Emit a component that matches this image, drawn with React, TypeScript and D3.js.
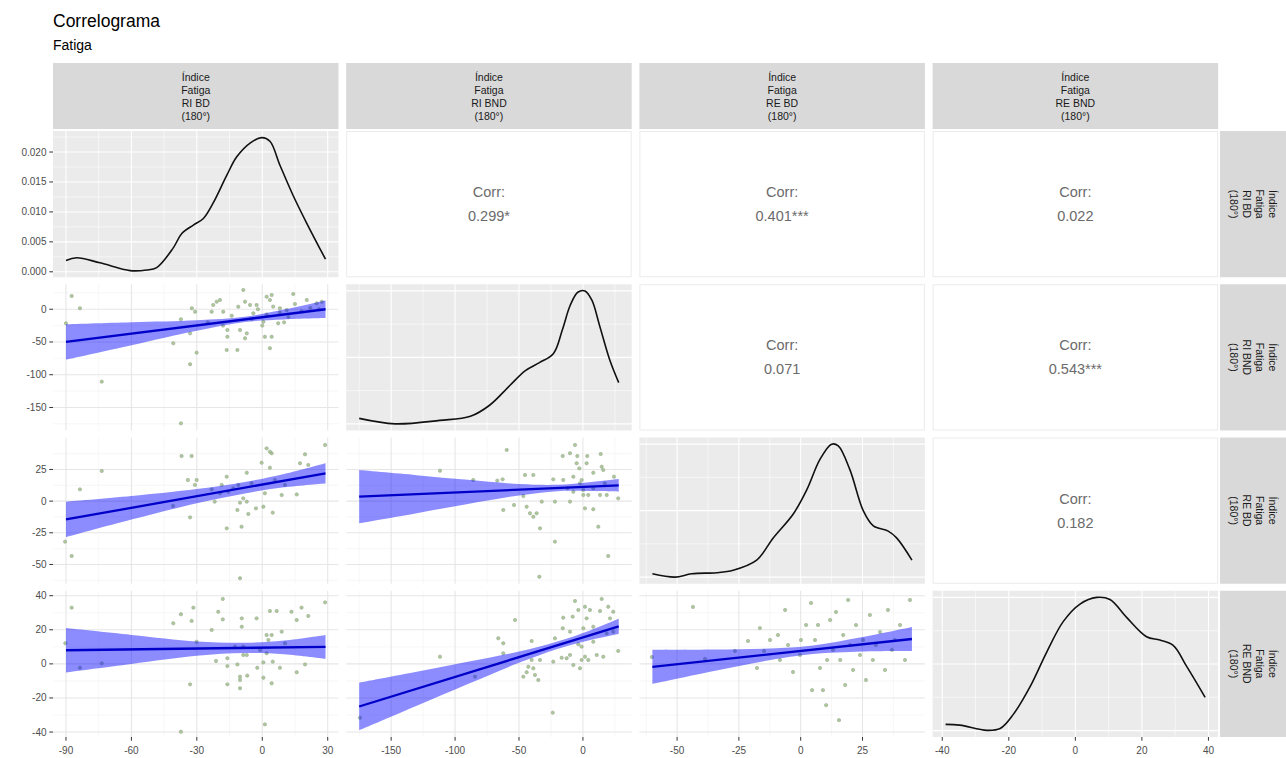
import React, { useEffect } from "react";
import * as d3 from "d3";

// ---------------- data ----------------
const TITLE = "Correlograma";
const SUBTITLE = "Fatiga";
const VAR_CODES = ["RI BD", "RI BND", "RE BD", "RE BND"];
const STRIP_PREFIX = ["Índice", "Fatiga"];
const STRIP_SUFFIX = "(180°)";

// observed data range of each variable
const VAR_EXTENTS: number[][] = [
  [-90, 29],
  [-175, 28],
  [-60, 45],
  [-39, 39],
];

const AXIS_TICKS: number[][] = [
  [-90, -60, -30, 0, 30],
  [-150, -100, -50, 0],
  [-50, -25, 0, 25],
  [-40, -20, 0, 20, 40],
];
const DENSITY_TICKS = [0, 0.005, 0.01, 0.015, 0.02];

// diagonal densities [x, density]
const DENS_RI_BD = [
  [-90, 0.0019], [-85.1, 0.00235], [-74.4, 0.0015], [-60.6, 0.0002], [-53, 0.0003],
  [-48.4, 0.0007], [-40.8, 0.004], [-36.9, 0.0064], [-31.6, 0.0078], [-27, 0.0089],
  [-22.5, 0.0115], [-16.3, 0.0161], [-11.7, 0.0192], [-5.6, 0.0215], [-0.25, 0.0224],
  [3.5, 0.0218], [8.1, 0.0178], [14.2, 0.0127], [20.4, 0.0081], [29, 0.0021],
];
const DENS_RI_BND = [
  [-175, 0.041], [-147, 0.0], [-112, 0.026], [-88, 0.057], [-73, 0.14], [-57, 0.29],
  [-45, 0.4], [-34, 0.46], [-23, 0.53], [-16, 0.71], [-10, 0.89], [-4, 0.99],
  [1.6, 1.0], [7, 0.93], [13, 0.74], [21, 0.48], [28, 0.31],
];
const DENS_RE_BD = [
  [-60, 0.025], [-50.8, 0.0], [-44.1, 0.025], [-34, 0.033], [-27.3, 0.052],
  [-17.8, 0.128], [-11.1, 0.295], [-3, 0.475], [2.4, 0.654], [7.8, 0.885],
  [12.5, 1.0], [15.2, 0.987], [19.9, 0.808], [25.3, 0.5], [29.4, 0.385],
  [35.4, 0.346], [38.8, 0.295], [45, 0.128],
];
const DENS_RE_BND = [
  [-39, 0.047], [-34.7, 0.041], [-26.6, 0.002], [-22.6, 0.016], [-18.7, 0.12],
  [-13.6, 0.33], [-8.6, 0.59], [-3.6, 0.82], [1.4, 0.95], [6.4, 1.0], [10.4, 0.984],
  [15.4, 0.85], [21.4, 0.705], [25.4, 0.68], [29.4, 0.64], [33.5, 0.48], [39, 0.25],
];

// correlation labels (upper triangle)
const CORR_LABELS = [
  { row: 0, col: 1, value: "0.299*" },
  { row: 0, col: 2, value: "0.401***" },
  { row: 0, col: 3, value: "0.022" },
  { row: 1, col: 2, value: "0.071" },
  { row: 1, col: 3, value: "0.543***" },
  { row: 2, col: 3, value: "0.182" },
];

// scatter points (lower triangle) [x, y]
const PTS_RIBD_RIBND = [
  [-87.4, 20.2], [-83.6, 1.4], [-90, -21.5], [-73.6, -110.6], [-40.8, -52], [-37.3, -15.4],
  [-33.1, -36.8], [-30.1, -66.3], [-33.1, -84.1], [-37.3, -174.2], [-32.3, 1.4], [-30.8, -3.8],
  [-23.2, -3.8], [-22.5, 6.5], [-20.9, 11.5], [-19.4, 14.1], [-17.9, -3.8], [-16, -31.7],
  [-16, -42], [-16.3, -62.2], [-11.4, -62.2], [-10.2, -31.7], [-7.1, -36.8], [-7.9, -44.4],
  [-11, 3.9], [-7.9, 11.5], [-8.7, 29.4], [-5.6, 6.5], [-2.6, 6.5], [0.5, -19], [1.2, -42],
  [4.3, -42], [3.5, -59.6], [2, 19.1], [4.3, 21.7], [3.5, 14.1], [7.3, -21.5], [14.2, 23.3],
  [20.4, 14.1], [24.9, 9.1], [27.3, 11.5], [8.1, 1.4], [11.2, -1.2], [-4.1, -6.2],
  [-14, -10], [-5, -15], [2, -8], [8, -5], [12, -12], [18, -3], [22, 2], [-25, -20],
  [-2, 0], [5, 4], [15, 8], [26, 0], [-18, -25], [10, -20], [0, -25],
];
const PTS_RIBD_REBD = [
  [-90.4, -32], [-87.4, -43.3], [-83.6, 9.3], [-73.6, 23.8], [-37, 35.6], [-32.4, 35.6],
  [-34.1, 16.7], [-30.1, 16.7], [-30.9, 12.8], [-40.9, -3.8], [-33.1, -12.8], [-23.2, 9.3],
  [-21.8, -0.4], [-18.6, 12.8], [-16.3, 19.3], [-15.6, 7.4], [-16.3, -21.5], [-11.4, -7],
  [-9.5, -20.2], [-10.2, -1.2], [-8.7, 2.2], [-7.1, -0.4], [-6.4, -10.2], [-7.1, 22.4],
  [-10.2, -60.9], [-2.9, -5.7], [-0.3, 30.3], [2, 41.7], [4.3, 37.8], [3.5, 39],
  [3.5, 26.4], [0.5, -4.4], [1.2, 6.2], [4.8, -9.1], [5.8, 16.7], [8.9, 4.8], [10.4, 12.8],
  [15.8, 5.3], [17.3, 29.9], [19.6, 37], [21.1, 28.5], [28.8, 44.3], [-13.3, 10.1],
  [-11, 12.8], [-4.9, 14.1], [-19.4, 6.2],
];
const PTS_RIBD_REBND = [
  [-87.4, 33], [-83.6, -2.3], [-90.3, 12.1], [-73.6, 0.3], [-40.8, 23.8], [-37.3, 29.1],
  [-31.6, 33], [-32.4, 25.2], [-33.1, -12], [-30.1, 13], [-37.3, -39.8], [-23.2, 19.9],
  [-21.2, 1.7], [-20.2, 30.6], [-18.1, 38.1], [-18.1, 26.1], [-16, 3.3], [-16, -1.3],
  [-16, -12], [-11.4, -0.3], [-10.2, -7.5], [-10.2, -9.5], [-10.2, -14.3], [-6.9, -6.9],
  [-9.4, 26.7], [-9.4, 21.8], [-2.6, 26.7], [-2.3, -2.3], [0.5, -8.1], [0.5, 0.9],
  [1.2, -35.5], [2, 16.9], [4.3, 16.9], [3.5, 31], [6.6, 31], [4.8, 1.3], [4.3, -11.4],
  [8.1, -2.3], [8.9, 18.9], [10.4, 12.1], [13.4, 30.6], [15.8, 25.7], [15.8, -4.9],
  [18, 33], [19.6, -0.3], [21.1, 28.1], [28.8, 36.1], [-8.7, 5.2], [-7.1, 5.2],
  [-8.7, 10.1], [-12.5, 10.1], [-1, 8.1], [2, 6.2], [2.8, 14],
];
const PTS_RIBND_REBD = [
  [-59.6, 40.4], [-111.8, 24], [-85.8, 16.7], [-67, 16.2], [-62.8, 17.2], [-62.3, -7],
  [-53.9, -3.1], [-45.3, 20.6], [-38.8, 20.6], [-46.6, 4], [-44, -4.4], [-41.4, -9.6],
  [-38.8, -12.3], [-36.2, -9.6], [-33.6, -21.5], [-34.1, -59.7], [-32.2, -0.4],
  [-23.2, 17.2], [-21.9, -0.4], [-21.9, -32], [-15.8, 35.6], [-10.1, 37.8], [-6.2, 44.3],
  [-4.4, 35.6], [-4.9, 29.9], [3.4, 35.6], [2.9, 29.9], [-2.8, 25.9], [-7.5, 19.3],
  [-10.1, -0.4], [-15.4, 16.7], [-12.2, 10.1], [-2.3, 14.1], [-1, 16.7], [1.6, -5.7],
  [0.3, 4.8], [4.2, 4.8], [8.1, 22.4], [8.1, -6.4], [12, -20.2], [13.9, 37.2], [14.7, 27.2],
  [15.9, 24.6], [19.8, -43.3], [24.3, 19.3], [27.6, 2.2], [13.4, 4.8], [18.6, 4.8],
  [0.3, 8.8], [8.1, 10.1], [-7.5, 7.4], [17.1, 14.1],
];
const PTS_RIBND_REBND = [
  [-174.4, -31.6], [-111.8, 4.2], [-84.4, -7.5], [-66.2, 15], [-62.3, 12.1], [-62.3, 6.2],
  [-53.1, 25.7], [-46.6, -7.5], [-44, -4.9], [-42.7, -1.7], [-38.8, -2.6], [-37.5, -6.5],
  [-34.9, -9.5], [-40.1, 2.3], [-33.6, 2.3], [-40.1, 13.4], [-23.6, -28.6], [-23.2, 1.3],
  [-21.9, 15], [-15.4, 27.1], [-15.8, 20.9], [-12.7, 3.3], [-10.1, 5.2], [-7.5, -0.7],
  [-6.2, 36.9], [-8, 27.7], [-3.6, 31.6], [1.6, 33.5], [2.9, 26.7], [5.5, 31.6], [-2.3, -2.6],
  [-1, 2.3], [1.6, 4.2], [4.2, 2.3], [-3.6, 11.5], [-1, 10.1], [8.1, 13], [10.8, 5.2],
  [15.9, 4.2], [14.7, 38.1], [13.4, 31], [19.8, 33.5], [21.2, 26.7], [23.7, 30.6],
  [27.6, 7.6], [8.1, 21.8], [0.3, 20.9], [18.6, 17.9], [-10.1, 18.9], [-16.6, 3.6],
  [23.7, 18.9],
];
const PTS_REBD_REBND = [
  [-60.2, 4], [-43.6, 33.4], [-38.7, 2.9], [-26.6, 7.6], [-21.3, 13.4], [-16.5, 21],
  [-14.8, 7.6], [-9.2, 16.9], [-6.3, 31.6], [-5.1, 11.1], [-3.1, -4.8], [-0.3, 5.2],
  [2.2, 22.8], [4.2, 35.7], [5.8, 14], [7.8, -2.4], [9, -15.4], [11.9, 25.7], [13.1, 8.2],
  [14.3, 30.4], [16, 2.3], [17.2, 16.9], [18, -12.4], [19.2, 37.5], [20, 11.1], [21.2, -3.6],
  [22.4, 22.8], [24, 5.2], [25.2, 14], [26.4, -9.5], [28, 28.7], [29.2, 2.3], [30.4, 11.1],
  [32.1, 18.7], [34.1, -3.6], [35.3, 31.6], [36.9, 8.2], [38.1, 14], [40.2, 22.8],
  [42.2, 2.3], [44.2, 37.5], [15.5, -33], [0.1, 14], [7, 22.8], [10.7, 2.3], [-8.4, 2.3],
  [-12.4, 14], [-17.7, -2.4], [4.6, -15.4], [10.3, -24.2],
];

// linear fits: [x0, y0, x1, y1] and confidence band samples [x, lower, upper]
const FIT_RIBD_RIBND = [-90, -50, 29, 0];
const BAND_RIBD_RIBND = [[-90, -77, -23], [-60, -54.9, -19.9], [-30, -32.8, -16.8], [-8, -19.5, -11.5], [10, -15.5, -0.5], [29, -13.5, 13.5]];
const FIT_RIBD_REBD = [-90, -14.5, 29, 22];
const BAND_RIBD_REBD = [[-90, -28.5, -0.5], [-60, -14.6, 4], [-30, -1.7, 9.5], [-8, 6.1, 15.1], [10, 10.9, 21.5], [29, 14, 30]];
const FIT_RIBD_REBND = [-90, 8, 29, 10];
const BAND_RIBD_REBND = [[-90, -5, 21], [-60, 0, 17], [-30, 4.8, 13.2], [-8, 6.4, 12.4], [10, 5.7, 13.7], [29, 3, 17]];
const FIT_RIBND_REBD = [-175, 3.5, 28, 12.5];
const BAND_RIBND_REBD = [[-175, -17.5, 24.5], [-130, -9.5, 20.5], [-90, -2.2, 16.8], [-50, 4.5, 13.5], [-20, 7.9, 12.9], [5, 8, 15], [28, 7.5, 17.5]];
const FIT_RIBND_REBND = [-175, -25, 28, 22];
const BAND_RIBND_REBND = [[-175, -39, -11], [-130, -24.6, -4.6], [-90, -11.8, 1.2], [-50, 0.6, 7.2], [-20, 8.7, 13.1], [5, 13.9, 19.5], [28, 17.5, 26.5]];
const FIT_REBD_REBND = [-60, -1.8, 45, 14.6];
const BAND_REBD_REBND = [[-60, -11.8, 8.2], [-35, -4.2, 8.4], [-10, 2.8, 9.2], [5, 5.8, 10.8], [25, 7.3, 15.7], [45, 7.6, 21.6]];

const LOWER = [
  { row: 1, col: 0, pts: PTS_RIBD_RIBND, fit: FIT_RIBD_RIBND, band: BAND_RIBD_RIBND },
  { row: 2, col: 0, pts: PTS_RIBD_REBD, fit: FIT_RIBD_REBD, band: BAND_RIBD_REBD },
  { row: 3, col: 0, pts: PTS_RIBD_REBND, fit: FIT_RIBD_REBND, band: BAND_RIBD_REBND },
  { row: 2, col: 1, pts: PTS_RIBND_REBD, fit: FIT_RIBND_REBD, band: BAND_RIBND_REBD },
  { row: 3, col: 1, pts: PTS_RIBND_REBND, fit: FIT_RIBND_REBND, band: BAND_RIBND_REBND },
  { row: 3, col: 2, pts: PTS_REBD_REBND, fit: FIT_REBD_REBND, band: BAND_REBD_REBND },
];
const DIAG = [DENS_RI_BD, DENS_RI_BND, DENS_RE_BD, DENS_RE_BND];

// ---------------- layout ----------------
const W = 1286;
const H = 758;
const PX0 = 53;
const PW = 285.5;
const HGAP = 7.7;
const PY0 = 131;
const PH = 146.25;
const VGAP = 7;
const STRIP_TOP_Y = 63;
const STRIP_H = 66;
const STRIP_RIGHT_X = 1220;
const FONT = "'Liberation Sans', Arial, Helvetica, sans-serif";

const colX = (j: number) => PX0 + j * (PW + HGAP);
const rowY = (i: number) => PY0 + i * (PH + VGAP);

function expand(ext: number[]) {
  const r = ext[1] - ext[0];
  return [ext[0] - 0.05 * r, ext[1] + 0.05 * r];
}
function minorOf(ticks: number[], dom: number[]) {
  const step = ticks[1] - ticks[0];
  const out: number[] = [];
  for (let t = ticks[0] - step * 4 - step / 2; t <= dom[1]; t += step) {
    if (t >= dom[0] && t <= dom[1]) out.push(t);
  }
  return out;
}
const xScale = (j: number) =>
  d3.scaleLinear().domain(expand(VAR_EXTENTS[j])).range([colX(j), colX(j) + PW]);
const yScale = (i: number) =>
  d3.scaleLinear().domain(expand(VAR_EXTENTS[i])).range([rowY(i) + PH, rowY(i)]);

function Grid({ x, y, xt, yt, bg, major, minor }: any) {
  const xd = x.domain();
  const yd = y.domain();
  const [x0, x1] = x.range();
  const [y1, y0] = y.range();
  const xm = minorOf(xt, xd);
  const ym = minorOf(yt, yd);
  return (
    <g>
      <rect x={x0} y={y0} width={x1 - x0} height={y1 - y0} fill={bg} />
      {xm.map((t, k) => (
        <line key={"xm" + k} x1={x(t)} x2={x(t)} y1={y0} y2={y1} stroke={minor} strokeWidth={0.55} />
      ))}
      {ym.map((t, k) => (
        <line key={"ym" + k} x1={x0} x2={x1} y1={y(t)} y2={y(t)} stroke={minor} strokeWidth={0.55} />
      ))}
      {xt.filter((t: number) => t >= xd[0] && t <= xd[1]).map((t: number, k: number) => (
        <line key={"xM" + k} x1={x(t)} x2={x(t)} y1={y0} y2={y1} stroke={major} strokeWidth={1.07} />
      ))}
      {yt.filter((t: number) => t >= yd[0] && t <= yd[1]).map((t: number, k: number) => (
        <line key={"yM" + k} x1={x0} x2={x1} y1={y(t)} y2={y(t)} stroke={major} strokeWidth={1.07} />
      ))}
    </g>
  );
}

function StripText({ cx, cy, code, rotate }: any) {
  const lines = [...STRIP_PREFIX, code, STRIP_SUFFIX];
  return (
    <g transform={`translate(${cx},${cy})${rotate ? " rotate(90)" : ""}`}>
      {lines.map((l, k) => (
        <text
          key={k}
          x={0}
          y={(k - 1.5) * 13}
          textAnchor="middle"
          dominantBaseline="central"
          fontSize={10.5}
          fill="#1A1A1A"
          fontFamily={FONT}
        >
          {l}
        </text>
      ))}
    </g>
  );
}

export default function App() {
  useEffect(() => {
    document.body.style.margin = "0";
  }, []);

  const diagPanels = DIAG.map((dens, i) => {
    const x = xScale(i);
    const dExt = d3.extent(dens, (d) => d[1]) as number[];
    const y = d3.scaleLinear().domain(expand(dExt)).range([rowY(i) + PH, rowY(i)]);
    const yt = i === 0 ? DENSITY_TICKS : y.ticks(3);
    const line = d3
      .line<number[]>()
      .x((d) => x(d[0]))
      .y((d) => y(d[1]))
      .curve(d3.curveCatmullRom.alpha(0.5));
    return { i, x, y, yt, path: line(dens as any) || "" };
  });

  const lowerPanels = LOWER.map((p) => {
    const x = xScale(p.col);
    const y = yScale(p.row);
    const area = d3
      .area<number[]>()
      .x((d) => x(d[0]))
      .y0((d) => y(d[1]))
      .y1((d) => y(d[2]))
      .curve(d3.curveCatmullRom.alpha(0.5));
    return { ...p, x, y, bandPath: area(p.band as any) || "" };
  });

  return (
    <svg
      width={W}
      height={H}
      style={{ display: "block", position: "absolute", left: 0, top: 0, background: "#fff" }}
      fontFamily={FONT}
    >
      <defs>
        {[0, 1, 2, 3].map((i) =>
          [0, 1, 2, 3].map((j) => (
            <clipPath id={`clip-${i}-${j}`} key={`c${i}${j}`}>
              <rect x={colX(j)} y={rowY(i)} width={PW} height={PH} />
            </clipPath>
          ))
        )}
      </defs>
      <rect x={0} y={0} width={W} height={H} fill="#fff" />
      <text x={53} y={27} fontSize={17.5} fill="#000">
        {TITLE}
      </text>
      <text x={53} y={50} fontSize={14} fill="#000">
        {SUBTITLE}
      </text>

      {/* top strips */}
      {VAR_CODES.map((c, j) => (
        <g key={"ts" + j}>
          <rect x={colX(j)} y={STRIP_TOP_Y} width={PW} height={STRIP_H} fill="#D9D9D9" />
          <StripText cx={colX(j) + PW / 2} cy={STRIP_TOP_Y + STRIP_H / 2} code={c} />
        </g>
      ))}
      {/* right strips */}
      {VAR_CODES.map((c, i) => (
        <g key={"rs" + i}>
          <rect x={STRIP_RIGHT_X} y={rowY(i)} width={STRIP_H} height={PH} fill="#D9D9D9" />
          <StripText cx={STRIP_RIGHT_X + STRIP_H / 2} cy={rowY(i) + PH / 2} code={c} rotate />
        </g>
      ))}

      {/* correlation panels */}
      {CORR_LABELS.map((c, k) => {
        const cx = colX(c.col) + PW / 2;
        const cy = rowY(c.row) + PH / 2;
        return (
          <g key={"corr" + k}>
            <rect
              x={colX(c.col) + 0.5}
              y={rowY(c.row) + 0.5}
              width={PW - 1}
              height={PH - 1}
              fill="#fff"
              stroke="#EBEBEB"
              strokeWidth={1}
            />
            <text x={cx} y={cy - 12} textAnchor="middle" dominantBaseline="central" fontSize={14.5} fill="#6B6B6B">
              Corr:
            </text>
            <text x={cx} y={cy + 12} textAnchor="middle" dominantBaseline="central" fontSize={14.5} fill="#6B6B6B">
              {c.value}
            </text>
          </g>
        );
      })}

      {/* diagonal density panels */}
      {diagPanels.map((p) => (
        <g key={"diag" + p.i}>
          <Grid x={p.x} y={p.y} xt={AXIS_TICKS[p.i]} yt={p.yt} bg="#EBEBEB" major="#FFFFFF" minor="#FFFFFF" />
          <path d={p.path} fill="none" stroke="#111" strokeWidth={1.6} clipPath={`url(#clip-${p.i}-${p.i})`} />
        </g>
      ))}

      {/* lower scatter panels */}
      {lowerPanels.map((p, k) => (
        <g key={"low" + k}>
          <Grid x={p.x} y={p.y} xt={AXIS_TICKS[p.col]} yt={AXIS_TICKS[p.row]} bg="#FFFFFF" major="#E6E6E6" minor="#F1F1F1" />
          <g clipPath={`url(#clip-${p.row}-${p.col})`}>
            {p.pts.map((d, m) => (
              <circle
                key={m}
                cx={p.x(d[0])}
                cy={p.y(d[1])}
                r={1.7}
                fill="#A4C48E"
                stroke="#8E9A88"
                strokeWidth={0.5}
                opacity={0.9}
              />
            ))}
            <path d={p.bandPath} fill="#0000FF" fillOpacity={0.45} />
            <line
              x1={p.x(p.fit[0])}
              y1={p.y(p.fit[1])}
              x2={p.x(p.fit[2])}
              y2={p.y(p.fit[3])}
              stroke="#0000C8"
              strokeWidth={2.3}
            />
          </g>
        </g>
      ))}

      {/* y axis (left) */}
      {[0, 1, 2, 3].map((i) => {
        const y = i === 0 ? diagPanels[0].y : yScale(i);
        const ticks = i === 0 ? DENSITY_TICKS : AXIS_TICKS[i];
        const fmt = i === 0 ? d3.format(".3f") : (v: number) => String(v);
        return (
          <g key={"ya" + i}>
            {ticks.map((t, k) => (
              <g key={k}>
                <line x1={PX0 - 3.7} x2={PX0} y1={y(t)} y2={y(t)} stroke="#333" strokeWidth={1} />
                <text
                  x={PX0 - 6.5}
                  y={y(t)}
                  dy="0.35em"
                  textAnchor="end"
                  fontSize={10}
                  fill="#4D4D4D"
                >
                  {fmt(t)}
                </text>
              </g>
            ))}
          </g>
        );
      })}

      {/* x axis (bottom) */}
      {[0, 1, 2, 3].map((j) => {
        const x = xScale(j);
        const yb = rowY(3) + PH;
        return (
          <g key={"xa" + j}>
            {AXIS_TICKS[j].map((t, k) => (
              <g key={k}>
                <line x1={x(t)} x2={x(t)} y1={yb} y2={yb + 3.7} stroke="#333" strokeWidth={1} />
                <text x={x(t)} y={yb + 16.5} textAnchor="middle" fontSize={10} fill="#4D4D4D">
                  {String(t)}
                </text>
              </g>
            ))}
          </g>
        );
      })}
    </svg>
  );
}
